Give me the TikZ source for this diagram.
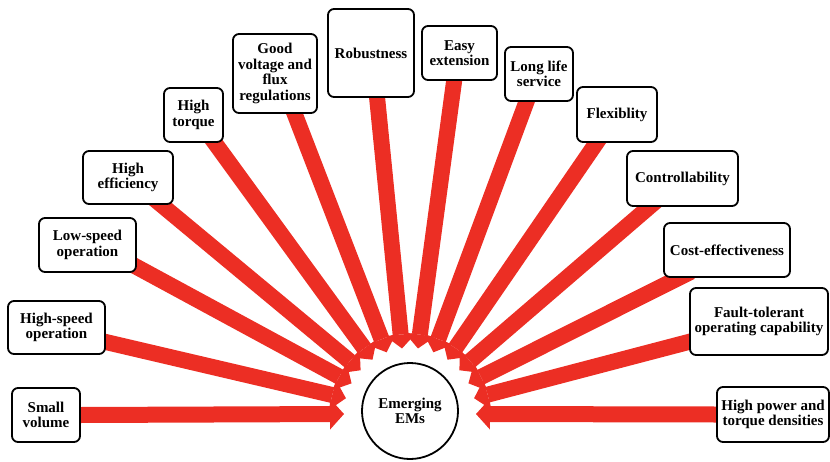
\documentclass[tikz,border=0pt]{standalone}
\usepackage{fontspec}
\setmainfont{Liberation Serif}
\usetikzlibrary{calc,arrows.meta,backgrounds}
\definecolor{arrowred}{RGB}{236,46,36}
\begin{document}
\begin{tikzpicture}[x=1pt,y=-1pt,
  box/.style={draw=black, line width=1.8pt, rounded corners=6pt, fill=white,
    align=center, inner sep=0pt, outer sep=0pt,
    font=\fontsize{15}{15.5}\selectfont\bfseries, text=black},
  ray/.style={draw=arrowred, line width=16pt,
    -{Triangle[width=31pt,length=14pt,line width=0pt]}},
  hub/.style={draw=black, circle, line width=1.8pt, fill=white, minimum size=96pt,
    inner sep=0pt, outer sep=0pt, align=center,
    font=\fontsize{15}{15.5}\selectfont\bfseries}
]
\useasboundingbox (0,0) rectangle (830,461);

% boxes
\node[box, minimum width=68pt,  minimum height=54pt] (sv) at (46,415)    {Small\\volume};
\node[box, minimum width=97pt,  minimum height=53pt] (hs) at (56.5,327.5) {High-speed\\operation};
\node[box, minimum width=97pt,  minimum height=54pt] (ls) at (87.5,245)  {Low-speed\\operation};
\node[box, minimum width=90pt,  minimum height=53pt] (he) at (128,177.5) {High\\efficiency};
\node[box, minimum width=59pt,  minimum height=54pt] (ht) at (193.5,115) {High\\torque};
\node[box, minimum width=84pt,  minimum height=79pt] (gv) at (275,73.5)  {Good\\voltage and\\flux\\regulations};
\node[box, minimum width=86pt,  minimum height=88pt] (rb) at (371,53)    {Robustness};
\node[box, minimum width=75pt,  minimum height=54pt] (ee) at (459.5,53)  {Easy\\extension};
\node[box, minimum width=68pt,  minimum height=54pt] (ll) at (539,74)    {Long life\\service};
\node[box, minimum width=80pt,  minimum height=55pt] (fx) at (617,114.5) {Flexiblity};
\node[box, minimum width=111pt, minimum height=55pt] (co) at (682.5,178.5) {Controllability};
\node[box, minimum width=126pt, minimum height=54pt] (ce) at (727,250)   {Cost-effectiveness};
\node[box, minimum width=138pt, minimum height=67pt] (ft) at (759,321.5) {Fault-tolerant\\operating capability};
\node[box, minimum width=112pt, minimum height=55pt] (hp) at (773,414.5) {High power and\\torque densities};

\node[hub] (em) at (410,411) {Emerging\\EMs};

% arrow start points on the boxes
\coordinate (s1)  at (sv.east);
\coordinate (s2)  at ($(hs.north east)!0.77!(hs.south east)$);
\coordinate (s3)  at ($(ls.north east)!0.90!(ls.south east)$);
\coordinate (s4)  at ($(he.south west)!0.86!(he.south east)$);
\coordinate (s5)  at ($(ht.south west)!0.85!(ht.south east)$);
\coordinate (s6)  at ($(gv.south west)!0.73!(gv.south east)$);
\coordinate (s7)  at ($(rb.south west)!0.57!(rb.south east)$);
\coordinate (s8)  at ($(ee.south west)!0.43!(ee.south east)$);
\coordinate (s9)  at ($(ll.south west)!0.32!(ll.south east)$);
\coordinate (s10) at ($(fx.south west)!0.25!(fx.south east)$);
\coordinate (s11) at ($(co.south west)!0.21!(co.south east)$);
\coordinate (s12) at ($(ce.south west)!0.13!(ce.south east)$);
\coordinate (s13) at ($(ft.north west)!0.80!(ft.south west)$);
\coordinate (s14) at (hp.west);

% arrow tips around the hub
\coordinate (A) at (410,414);
\foreach \k in {1,...,14}{
  \coordinate (t\k) at ($(A)+({180-(\k-1)*180/13}:66pt)$);
}

\begin{scope}[on background layer]
\foreach \k in {1,...,14}{
  \draw[ray] ($(s\k)!-12pt!(t\k)$) -- (t\k);
}
\end{scope}
\end{tikzpicture}
\end{document}
